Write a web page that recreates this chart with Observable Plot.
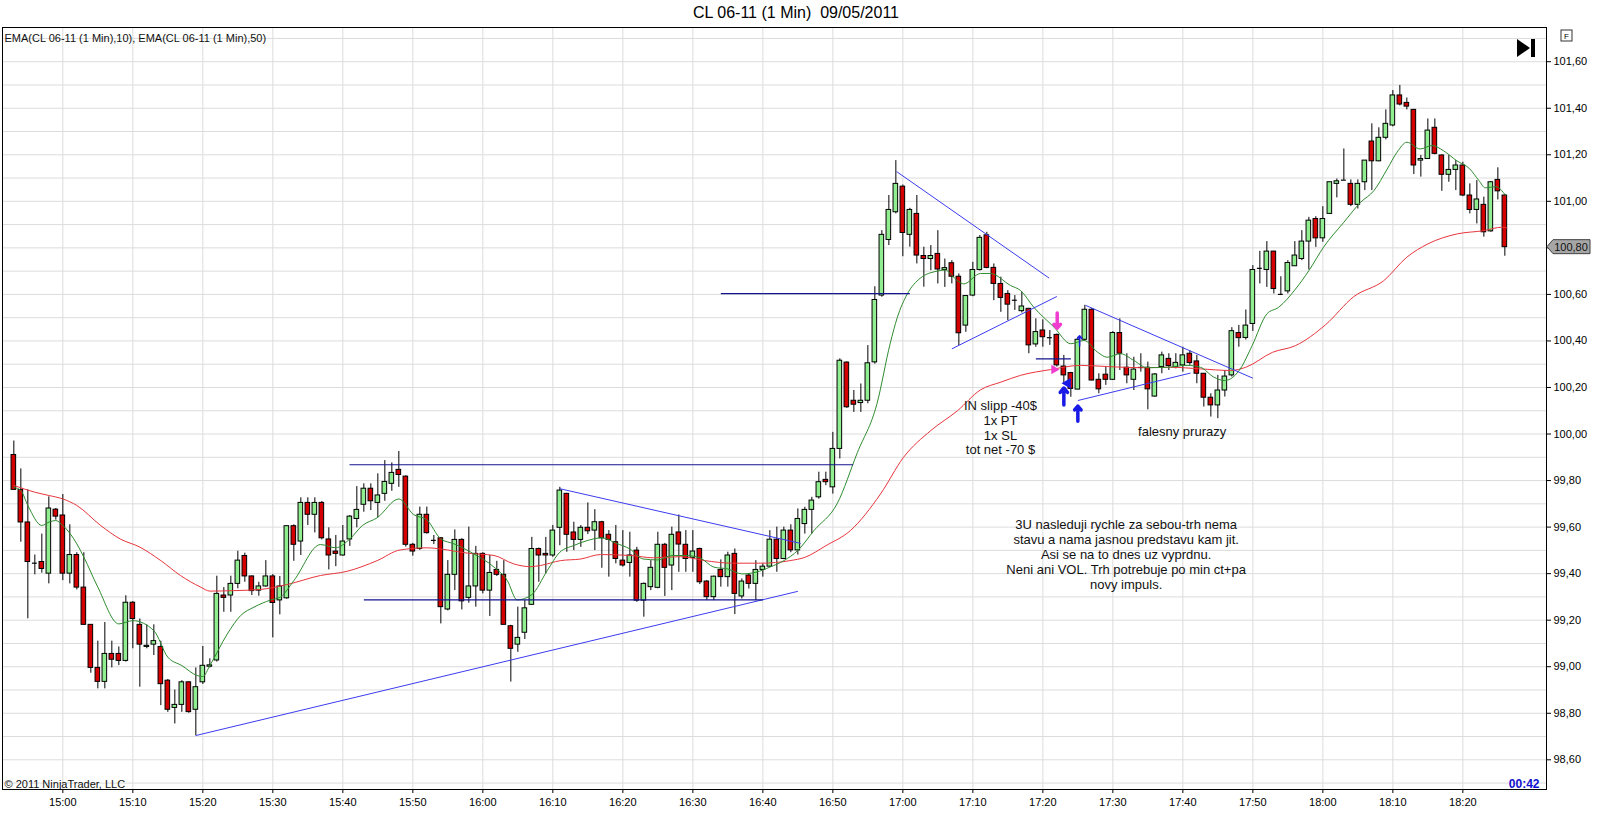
<!DOCTYPE html>
<html><head><meta charset="utf-8">
<script src="https://cdn.jsdelivr.net/npm/d3@7"></script>
<script src="https://cdn.jsdelivr.net/npm/@observablehq/plot@0.6"></script>
<style>
body{margin:0;background:#fff;font-family:"Liberation Sans",Arial,sans-serif;}
#title{height:26px;line-height:26px;width:1592px;text-align:center;font-size:16px;color:#000;white-space:pre;}
#chart svg{display:block;}
</style></head><body>
<div id="title">CL 06-11 (1 Min)  09/05/2011</div>
<div id="chart"></div>
<script>
// ---------- DATA ----------
const firstBarMinute = -7; // first bar 14:53 (minutes relative to 15:00)
const open = [
99.91,99.76,99.62,99.447,99.45,99.40,99.675,99.65,99.40,99.48,
99.34,99.18,98.995,98.935,99.055,99.055,99.025,99.275,99.18,99.085,
99.095,99.085,98.94,98.823,98.836,98.933,98.815,98.933,99.0,99.027,
99.306,99.306,99.356,99.476,99.388,99.327,99.345,99.388,99.285,99.294,
99.604,99.538,99.704,99.653,99.704,99.547,99.495,99.478,99.547,99.635,
99.696,99.765,99.704,99.743,99.786,99.846,99.817,99.524,99.506,99.653,
99.547,99.552,99.246,99.395,99.545,99.296,99.345,99.485,99.327,99.416,
99.395,99.174,99.095,99.146,99.266,99.506,99.485,99.478,99.597,99.743,
99.577,99.545,99.597,99.585,99.621,99.567,99.535,99.456,99.446,99.499,
99.284,99.342,99.339,99.524,99.435,99.577,99.524,99.468,99.506,99.366,
99.299,99.416,99.385,99.485,99.302,99.392,99.356,99.416,99.43,99.546,
99.463,99.585,99.50,99.613,99.674,99.728,99.803,99.771,99.936,100.307,
100.143,100.133,100.143,100.308,100.595,100.834,100.953,101.063,100.856,100.946,
100.765,100.752,100.774,100.705,100.734,100.676,100.466,100.595,100.705,100.854,
100.714,100.645,100.602,100.579,100.528,100.538,100.385,100.445,100.418,100.426,
100.290,100.262,100.191,100.405,100.534,100.233,100.255,100.233,100.434,100.285,
100.233,100.288,100.285,100.161,100.288,100.323,100.287,100.295,100.345,100.312,
100.259,100.156,100.123,100.187,100.252,100.434,100.413,100.473,100.716,100.705,
100.784,100.603,100.613,100.721,100.752,100.827,100.924,100.841,100.946,101.075,
101.093,101.075,100.985,101.082,101.257,101.172,101.273,101.326,101.455,101.423,
101.393,101.175,101.182,101.316,101.197,101.114,101.135,101.154,101.025,100.963,
100.985,100.871,101.092,101.025];
const high = [
99.97,99.85,99.76,99.48,99.57,99.73,99.68,99.74,99.61,99.49,
99.49,99.18,99.11,99.19,99.11,99.085,99.305,99.28,99.205,99.18,
99.18,99.11,98.945,98.90,98.94,98.935,98.995,99.087,99.034,99.389,
99.34,99.389,99.496,99.488,99.39,99.363,99.456,99.396,99.388,99.604,
99.61,99.726,99.726,99.726,99.71,99.597,99.564,99.607,99.65,99.774,
99.786,99.786,99.829,99.886,99.876,99.925,99.82,99.53,99.686,99.686,
99.564,99.555,99.456,99.588,99.55,99.6,99.517,99.49,99.478,99.453,
99.456,99.178,99.256,99.285,99.556,99.51,99.556,99.607,99.771,99.745,
99.621,99.607,99.704,99.675,99.625,99.585,99.607,99.585,99.578,99.513,
99.36,99.456,99.578,99.53,99.6,99.652,99.585,99.585,99.51,99.37,
99.39,99.459,99.492,99.506,99.377,99.40,99.456,99.442,99.585,99.6,
99.6,99.61,99.678,99.685,99.728,99.836,99.836,100.007,100.323,100.31,
100.187,100.215,100.38,100.633,100.874,101.025,101.175,101.07,100.97,101.025,
100.803,100.81,100.874,100.752,100.745,100.688,100.595,100.738,100.853,100.867,
100.731,100.674,100.616,100.595,100.61,100.54,100.495,100.491,100.445,100.43,
100.338,100.265,100.416,100.553,100.54,100.259,100.288,100.44,100.495,100.345,
100.33,100.345,100.309,100.26,100.352,100.345,100.345,100.373,100.359,100.338,
100.26,100.173,100.252,100.273,100.457,100.467,100.533,100.724,100.785,100.827,
100.785,100.676,100.745,100.827,100.874,100.931,100.934,100.977,101.082,101.096,
101.225,101.092,101.092,101.175,101.333,101.316,101.393,101.476,101.498,101.444,
101.395,101.197,101.354,101.354,101.2,101.197,101.175,101.168,101.075,101.089,
101.018,101.085,101.144,101.03];
const low = [
99.76,99.535,99.206,99.395,99.402,99.356,99.63,99.37,99.356,99.33,
99.177,98.972,98.905,98.905,98.995,99.005,99.02,99.077,98.912,99.077,
99.048,98.833,98.804,98.754,98.804,98.80,98.704,98.924,98.995,99.02,
99.234,99.234,99.335,99.363,99.306,99.303,99.342,99.124,99.223,99.29,
99.453,99.478,99.607,99.575,99.545,99.416,99.43,99.475,99.517,99.597,
99.664,99.671,99.64,99.711,99.754,99.771,99.514,99.475,99.50,99.57,
99.525,99.184,99.24,99.327,99.244,99.273,99.256,99.313,99.216,99.388,
99.18,98.934,99.062,99.117,99.265,99.363,99.399,99.47,99.52,99.492,
99.499,99.513,99.568,99.499,99.423,99.385,99.442,99.428,99.385,99.277,
99.213,99.327,99.335,99.302,99.327,99.406,99.406,99.406,99.353,99.284,
99.284,99.342,99.342,99.224,99.291,99.334,99.284,99.385,99.428,99.406,
99.46,99.49,99.48,99.57,99.57,99.72,99.778,99.742,99.893,100.11,
100.093,100.093,100.13,100.30,100.588,100.81,100.946,100.762,100.803,100.731,
100.631,100.702,100.645,100.63,100.645,100.38,100.437,100.59,100.70,100.71,
100.573,100.523,100.487,100.531,100.52,100.345,100.373,100.373,100.381,100.288,
100.216,100.158,100.19,100.40,100.228,100.173,100.209,100.23,100.273,100.216,
100.187,100.266,100.104,100.158,100.259,100.273,100.28,100.266,100.295,100.216,
100.116,100.073,100.066,100.159,100.245,100.373,100.404,100.441,100.645,100.63,
100.602,100.595,100.602,100.72,100.745,100.705,100.802,100.824,100.946,101.015,
101.09,100.977,100.967,101.046,101.046,101.17,101.264,101.32,101.41,101.393,
101.115,101.104,101.18,101.2,101.043,101.082,101.046,101.02,100.946,100.903,
100.846,100.867,101.006,100.764];
const close = [
99.76,99.62,99.45,99.445,99.42,99.68,99.645,99.40,99.48,99.34,
99.18,98.995,98.935,99.055,99.03,99.025,99.275,99.205,99.095,99.09,
99.11,98.925,98.815,98.836,98.933,98.805,98.912,99.004,99.006,99.313,
99.296,99.356,99.456,99.388,99.325,99.345,99.388,99.274,99.345,99.604,
99.524,99.704,99.653,99.704,99.552,99.478,99.485,99.538,99.645,99.674,
99.765,99.711,99.736,99.794,99.833,99.824,99.524,99.495,99.653,99.574,
99.543,99.256,99.395,99.545,99.281,99.345,99.485,99.327,99.403,99.395,
99.18,99.077,99.124,99.251,99.506,99.478,99.478,99.585,99.757,99.567,
99.545,99.597,99.582,99.621,99.552,99.545,99.463,99.435,99.478,99.284,
99.356,99.425,99.524,99.425,99.567,99.525,99.463,99.495,99.363,99.299,
99.387,99.385,99.478,99.313,99.366,99.356,99.416,99.43,99.546,99.463,
99.585,99.50,99.635,99.674,99.714,99.793,99.793,99.936,100.315,100.115,
100.126,100.143,100.304,100.576,100.856,100.963,101.075,100.864,100.963,100.767,
100.752,100.765,100.707,100.713,100.676,100.433,100.593,100.705,100.843,100.714,
100.645,100.585,100.556,100.575,100.548,100.381,100.438,100.416,100.414,100.295,
100.252,100.194,100.405,100.534,100.23,100.192,100.233,100.434,100.345,100.252,
100.277,100.286,100.192,100.256,100.338,100.292,100.306,100.338,100.305,100.259,
100.156,100.123,100.187,100.247,100.442,100.412,100.466,100.705,100.712,100.784,
100.623,100.600,100.735,100.767,100.827,100.917,100.841,100.924,101.082,101.086,
101.091,100.985,101.075,101.175,101.172,101.273,101.333,101.455,101.416,101.407,
101.154,101.182,101.304,101.204,101.114,101.135,101.154,101.025,100.963,101.008,
100.867,101.082,101.043,100.803];

// EMA lines (bar index, price)
const ema10Bar = [0,1,2,4,5,6,7,9,10,12,15,17,20,22,24,26.2,27,28,30.5,32.4,34.3,36.7,38.1,40,43.8,46,48,49.8,51.9,55,57.1,59,61,62.9,65.7,68.6,70.5,71.9,74,76.2,78,80,81.9,84,86,88,89.9,92,94,96,98,100,102,104,106,108,110,112,114.3,117.6,120.5,123.3,125.2,126.2,127.6,129.5,131.9,133,134.8,135.7,138.1,139.5,142.4,143.8,145.7,148.6,151,152.9,154.8,156.2,158.1,160,161.9,164.8,167.6,169.5,171.4,172.9,173.8,175.2,176.9,179,180.7,183.1,185,187.1,190,192.4,194.3,196.2,197.6,199,200.9,202.6,204.2,206.1,208,209.3,210.2,211.7,213.1];
const ema10Val = [99.771,99.757,99.693,99.607,99.621,99.628,99.607,99.528,99.471,99.342,99.184,99.198,99.155,99.041,99.005,98.962,98.958,99.005,99.141,99.22,99.256,99.287,99.3,99.37,99.525,99.511,99.549,99.607,99.64,99.721,99.654,99.631,99.549,99.528,99.485,99.428,99.37,99.287,99.31,99.413,99.492,99.521,99.542,99.554,99.531,99.506,99.463,99.459,99.478,99.478,99.468,99.428,99.42,99.399,99.406,99.428,99.456,99.50,99.585,99.70,99.92,100.13,100.39,100.50,100.60,100.67,100.70,100.705,100.659,100.645,100.69,100.69,100.638,100.617,100.545,100.459,100.388,100.402,100.352,100.33,100.345,100.316,100.285,100.287,100.295,100.287,100.245,100.23,100.237,100.28,100.38,100.516,100.545,100.623,100.702,100.803,100.91,100.996,101.046,101.139,101.211,101.254,101.225,101.24,101.218,101.175,101.139,101.089,101.058,101.063,101.025];
const ema50Bar = [0,3,5,7,9,12.4,15.2,18,21,23.8,26.7,28,31.4,35.2,39,43.8,47.6,51.9,55.2,59,61.9,64.8,68.6,71.4,73.8,75.2,78.1,81,83.8,88.1,91.4,95.2,98.7,102.6,106.7,110.9,113,116,119.5,123.8,127.1,131,134.8,138.1,141,143.8,148.1,152.4,156.2,161,165.2,169.5,173.8,176,179.8,183.1,187.4,191.4,195.7,199,202,206.2,210,212.6,213.3];
const ema50Val = [99.779,99.75,99.736,99.721,99.693,99.607,99.549,99.514,99.456,99.392,99.342,99.325,99.327,99.332,99.353,99.392,99.41,99.456,99.502,99.511,99.502,99.488,99.478,99.442,99.43,99.435,99.456,99.463,99.482,99.478,99.468,99.473,99.456,99.445,99.445,99.456,99.47,99.52,99.585,99.742,99.9,100.015,100.1,100.19,100.223,100.252,100.277,100.295,100.29,100.285,100.287,100.28,100.273,100.287,100.351,100.38,100.47,100.59,100.659,100.76,100.817,100.86,100.874,100.889,100.886];

// Hand-drawn lines (bar index, price)
const lineStartBar   = [25.95, 47.95, 50, 78, 101, 126.1, 134, 146, 153.1, 152];
const lineStartPrice = [98.704, 99.868, 99.287, 99.765, 100.603, 101.128, 100.366, 100.323, 100.553, 100.144];
const lineEndBar     = [112, 119.9, 107, 112.4, 128, 147.9, 149, 151, 177, 168.1];
const lineEndPrice   = [99.324, 99.868, 99.287, 99.53, 100.603, 100.67, 100.591, 100.323, 100.24, 100.262];
const lineKind       = ["trend","level","level","trend","level","trend","trend","level","trend","trend"];

// Arrows
const arrowBar   = [149.05, 150.0, 152.0, 152.25];
const arrowFrom  = [100.52, 100.125, 100.055, 100.378];
const arrowTo    = [100.455, 100.198, 100.12, 100.422];
const arrowKind  = ["pink","blue","blue","thin"];
const pointerBar   = [148.6, 150.55];
const pointerPrice = [100.277, 100.218];
const pointerKind  = ["pinkRight","blueLeft"];

// Text notes
const noteBar   = [140.95, 166.9, 158.9];
const notePrice = [100.029, 100.011, 99.484];
const noteText  = ["IN slipp -40$\n1x PT\n1x SL\ntot net -70 $",
  "falesny prurazy",
  "3U nasleduji rychle za sebou-trh nema\nstavu a nama jasnou predstavu kam jit.\nAsi se na to dnes uz vyprdnu.\nNeni ani VOL. Trh potrebuje po min ct+pa\nnovy impuls."];

const timeTicks  = ["15:00","15:10","15:20","15:30","15:40","15:50","16:00","16:10","16:20","16:30","16:40","16:50","17:00","17:10","17:20","17:30","17:40","17:50","18:00","18:10","18:20"];
const priceTicks = [98.6,98.8,99.0,99.2,99.4,99.6,99.8,100.0,100.2,100.4,100.6,100.8,101.0,101.2,101.4,101.6];
const gridPrices = [98.5,98.6,98.7,98.8,98.9,99.0,99.1,99.2,99.3,99.4,99.5,99.6,99.7,99.8,99.9,100.0,100.1,100.2,100.3,100.4,100.5,100.6,100.7,100.8,100.9,101.0,101.1,101.2,101.3,101.4,101.5,101.6,101.7];

// ---------- BUILD ----------
const toMin = s => { const [h, m] = s.split(":").map(Number); return h*60 + m - 900; };
const fmtMin = m => { const t = 900 + m; return Math.floor(t/60) + ":" + String(t%60).padStart(2,"0"); };
const tickMinutes = timeTicks.map(toMin);
const bars = open.map((o,i)=>({m: i + firstBarMinute, o, h: high[i], l: low[i], c: close[i]}));
const up = bars.filter(d => d.c > d.o + 0.005);
const down = bars.filter(d => d.c < d.o - 0.005);
const doji = bars.filter(d => Math.abs(d.c - d.o) <= 0.005);
const ema10 = ema10Bar.map((b,i)=>({m: b + firstBarMinute, v: ema10Val[i]}));
const ema50 = ema50Bar.map((b,i)=>({m: b + firstBarMinute, v: ema50Val[i]}));
const segs = lineStartBar.map((b,i)=>({x1: b + firstBarMinute, y1: lineStartPrice[i], x2: lineEndBar[i] + firstBarMinute, y2: lineEndPrice[i], kind: lineKind[i]}));
const arrows = arrowBar.map((b,i)=>({m: b + firstBarMinute, y1: arrowFrom[i], y2: arrowTo[i], kind: arrowKind[i]}));
const pointers = pointerBar.map((b,i)=>({m: b + firstBarMinute, p: pointerPrice[i], kind: pointerKind[i]}));
const notes = noteBar.map((b,i)=>({m: b + firstBarMinute, p: notePrice[i], t: noteText[i]}));
const lastClose = close[close.length-1];

const font = "Liberation Sans, Arial, sans-serif";
const chart = Plot.plot({
  width: 1600, height: 809,
  marginTop: 1, marginBottom: 46, marginLeft: 2, marginRight: 54,
  style: {fontFamily: font, fontSize: "11px", background: "white", color: "black"},
  x: {domain: [-8.62, 211.95]},
  y: {domain: [98.4724, 101.747]},
  marks: [
    Plot.gridY(gridPrices, {stroke: "#dcdcdc", strokeOpacity: 1}),
    Plot.gridX(tickMinutes, {stroke: "#dcdcdc", strokeOpacity: 1}),
    Plot.ruleX(bars, {x: "m", y1: "l", y2: "h", stroke: "black", strokeWidth: 1}),
    Plot.rect(up, {x1: d => d.m - 0.5, x2: d => d.m + 0.5, y1: "o", y2: "c", insetLeft: 1.2, insetRight: 1.2, fill: "#90ee90", stroke: "black", strokeWidth: 1}),
    Plot.rect(down, {x1: d => d.m - 0.5, x2: d => d.m + 0.5, y1: "o", y2: "c", insetLeft: 1.2, insetRight: 1.2, fill: "#d40000", stroke: "black", strokeWidth: 1}),
    Plot.ruleY(doji, {y: "c", x1: d => d.m - 0.35, x2: d => d.m + 0.35, stroke: "black", strokeWidth: 1.2}),
    Plot.line(ema50, {x: "m", y: "v", stroke: "#e8353c", strokeWidth: 1, curve: "monotone-x"}),
    Plot.line(ema10, {x: "m", y: "v", stroke: "#2e8b2e", strokeWidth: 1, curve: "monotone-x"}),
    Plot.link(segs.filter(d => d.kind === "trend"), {x1: "x1", y1: "y1", x2: "x2", y2: "y2", stroke: "#3c3cf0", strokeWidth: 1}),
    Plot.link(segs.filter(d => d.kind === "level"), {x1: "x1", y1: "y1", x2: "x2", y2: "y2", stroke: "#15158f", strokeWidth: 1.2}),
    Plot.arrow(arrows.filter(d => d.kind === "pink"), {x: "m", y1: "y1", y2: "y2", stroke: "#f03ccf", strokeWidth: 3.5, headLength: 6, headAngle: 80}),
    Plot.arrow(arrows.filter(d => d.kind === "blue"), {x: "m", y1: "y1", y2: "y2", stroke: "#1a1ae6", strokeWidth: 3.5, headLength: 6, headAngle: 80}),
    Plot.arrow(arrows.filter(d => d.kind === "thin"), {x: "m", y1: "y1", y2: "y2", stroke: "#1a1ae6", strokeWidth: 1.5, headLength: 4, headAngle: 80}),
    Plot.dot(pointers.filter(d => d.kind === "pinkRight"), {x: "m", y: "p", symbol: "triangle", rotate: 90, r: 3.5, fill: "#f03ccf", stroke: "none"}),
    Plot.dot(pointers.filter(d => d.kind === "blueLeft"), {x: "m", y: "p", symbol: "triangle", rotate: -90, r: 4, fill: "#1a1ae6", stroke: "none"}),
    Plot.text(notes, {x: "m", y: "p", text: "t", fontSize: 13, lineHeight: 1.15, fill: "#111", textAnchor: "middle", fontFamily: font}),
    Plot.text(["EMA(CL 06-11 (1 Min),10), EMA(CL 06-11 (1 Min),50)"], {frameAnchor: "top-left", dx: 2, dy: 7, fontSize: 11, fill: "#111", lineAnchor: "top"}),
    Plot.text(["© 2011 NinjaTrader, LLC"], {frameAnchor: "bottom-left", dx: 2, dy: -2, fontSize: 11, fill: "#111", lineAnchor: "bottom"}),
    Plot.text(["00:42"], {frameAnchor: "bottom-right", dx: -7, dy: -2, fontSize: 12, fontWeight: "bold", fill: "#1010d0", lineAnchor: "bottom"}),
    Plot.frame({stroke: "black"}),
    Plot.axisX(tickMinutes, {anchor: "bottom", tickSize: 4, tickPadding: 5, tickFormat: fmtMin, fontSize: 11, label: null}),
    Plot.axisY(priceTicks, {anchor: "right", tickSize: 4, tickPadding: 3, tickFormat: d => d.toFixed(2).replace(".", ","), fontSize: 11, label: null})
  ]
});
document.getElementById("chart").appendChild(chart);

// price marker, play-to-end icon and the "F" box
const svg = d3.select(chart);
const yc = chart.scale("y").apply(lastClose);
const xr = chart.scale("x").range[1];
svg.append("polygon")
  .attr("points", [[xr+1,yc],[xr+7,yc-7],[xr+44,yc-7],[xr+44,yc+7],[xr+7,yc+7]].map(p=>p.join(",")).join(" "))
  .attr("fill", "#a6a6a6").attr("stroke", "#404040").attr("stroke-width", 1);
svg.append("text").attr("x", xr+25).attr("y", yc+4).attr("text-anchor", "middle")
  .attr("font-size", 11).attr("font-family", font).attr("fill", "#111").text(lastClose.toFixed(2).replace(".", ","));
svg.append("polygon").attr("points", `${xr-29},13 ${xr-29},31 ${xr-16},22`).attr("fill", "black");
svg.append("rect").attr("x", xr-15).attr("y", 13).attr("width", 4).attr("height", 18).attr("fill", "black");
svg.append("rect").attr("x", xr+15).attr("y", 4).attr("width", 11).attr("height", 11).attr("fill", "white").attr("stroke", "#333");
svg.append("text").attr("x", xr+20.5).attr("y", 12.5).attr("text-anchor", "middle").attr("font-size", 8).attr("font-family", font).text("F");
</script>
</body></html>
